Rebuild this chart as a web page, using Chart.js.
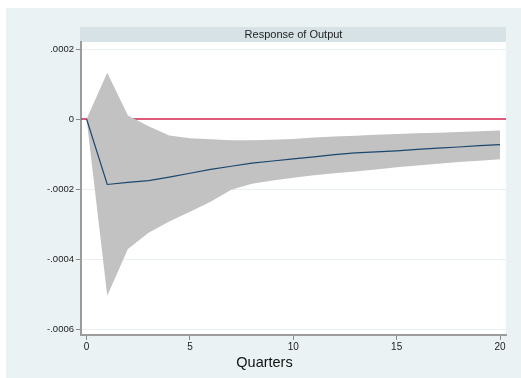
<!DOCTYPE html>
<html>
<head>
<meta charset="utf-8">
<script src="https://cdn.jsdelivr.net/npm/chart.js@4"></script>
<style>
  html, body { margin: 0; padding: 0; background: #ffffff; }
  #wrap { width: 521px; height: 378px; position: relative; }
</style>
</head>
<body>
<div id="wrap"><canvas id="c" width="521" height="378"></canvas></div>
<script>
// ---- data ----
const quarters = [0,1,2,3,4,5,6,7,8,9,10,11,12,13,14,15,16,17,18,19,20];
const irf = [0, -0.000187, -0.000181, -0.000176, -0.000166, -0.000155, -0.000144, -0.000135, -0.000126, -0.000120, -0.000114,
             -0.000108, -0.000102, -0.000097, -0.000094, -0.000091, -0.000087, -0.000083, -0.000080, -0.000076, -0.000073];
const upperCI = [0, 0.000132, 0.000010, -0.000021, -0.000047, -0.000055, -0.000058, -0.000061, -0.000061, -0.000059, -0.000057,
                 -0.000053, -0.000050, -0.000048, -0.000045, -0.000043, -0.000041, -0.000039, -0.000037, -0.000035, -0.000033];
const lowerCI = [0, -0.000505, -0.000371, -0.000325, -0.000293, -0.000265, -0.000236, -0.000202, -0.000185, -0.000176, -0.000168,
                 -0.000161, -0.000155, -0.000150, -0.000144, -0.000138, -0.000133, -0.000128, -0.000123, -0.000119, -0.000115];
const xTicks = [0, 5, 10, 15, 20];
const yTicks = [-0.0006, -0.0004, -0.0002, 0, 0.0002];
const panelTitle = "Response of Output";
const xTitle = "Quarters";

const FONT = "'Liberation Sans', Arial, Helvetica, sans-serif";

function pts(arr) { return quarters.map((q, i) => ({ x: q, y: arr[i] })); }
function stataFmt(v) {
  if (Math.abs(v) < 1e-12) return "0";
  const s = Math.abs(v).toFixed(4).replace(/^0/, "");
  return (v < 0 ? "-" : "") + s;
}

const decor = {
  id: 'decor',
  beforeDraw(chart) {
    const { ctx, chartArea: a } = chart;
    ctx.save();
    ctx.fillStyle = '#ffffff';
    ctx.fillRect(0, 0, chart.width, chart.height);
    ctx.fillStyle = '#eaf2f3';
    ctx.fillRect(6, 8, chart.width - 6, chart.height - 8);
    ctx.fillStyle = '#ffffff';
    ctx.fillRect(a.left, a.top, a.right - a.left, a.bottom - a.top);
    // title strip
    ctx.fillStyle = '#d7e2e7';
    ctx.fillRect(a.left - 1, a.top - 15, a.right - a.left + 1, 15);
    ctx.fillStyle = '#1e1e1e';
    ctx.font = "11px " + FONT;
    ctx.textAlign = 'center';
    ctx.textBaseline = 'middle';
    ctx.fillText(panelTitle, (a.left + a.right) / 2, a.top - 7);
    ctx.restore();
  },
  beforeDatasetsDraw(chart) {
    const { ctx, chartArea: a, scales } = chart;
    const y0 = scales.y.getPixelForValue(0);
    ctx.save();
    ctx.strokeStyle = '#d9254f';
    ctx.lineWidth = 1.3;
    ctx.beginPath();
    ctx.moveTo(a.left, y0);
    ctx.lineTo(a.right, y0);
    ctx.stroke();
    ctx.restore();
  },
  afterDraw(chart) {
    const { ctx } = chart;
    ctx.save();
    ctx.fillStyle = '#111111';
    ctx.font = "14.5px " + FONT;
    ctx.textAlign = 'center';
    ctx.textBaseline = 'middle';
    ctx.fillText(xTitle, 264.5, 363);
    ctx.restore();
  }
};

new Chart(document.getElementById('c'), {
  type: 'line',
  data: {
    datasets: [
      { label: 'upper', data: pts(upperCI), borderWidth: 0, borderColor: 'rgba(0,0,0,0)',
        backgroundColor: '#c2c2c2', fill: '+1', pointRadius: 0, tension: 0, order: 3 },
      { label: 'lower', data: pts(lowerCI), borderWidth: 0, borderColor: 'rgba(0,0,0,0)',
        backgroundColor: '#c2c2c2', fill: false, pointRadius: 0, tension: 0, order: 4 },
      { label: 'irf', data: pts(irf), borderWidth: 1.2, borderColor: '#1a476f',
        fill: false, pointRadius: 0, tension: 0, order: 1 }
    ]
  },
  options: {
    responsive: false,
    animation: false,
    devicePixelRatio: 1,
    layout: { padding: { top: 42, right: 15, left: 0, bottom: 0 } },
    plugins: { legend: { display: false }, tooltip: { enabled: false }, title: { display: false } },
    scales: {
      x: {
        type: 'linear',
        min: -0.27, max: 20.29,
        afterBuildTicks: s => { s.ticks = xTicks.map(v => ({ value: v })); },
        afterFit: s => { s.height = 43; },
        grid: { drawOnChartArea: false, tickLength: 5, tickColor: '#8a8a8a', tickWidth: 1 },
        border: { color: '#9c9c9c', width: 2 },
        ticks: { font: { family: FONT, size: 10 }, color: '#222', padding: 1, maxRotation: 0,
                 callback: v => String(v) }
      },
      y: {
        type: 'linear',
        min: -0.000617, max: 0.00022,
        afterBuildTicks: s => { s.ticks = yTicks.map(v => ({ value: v })); },
        afterFit: s => { s.width = 81; },
        grid: { color: '#e8f0f1', lineWidth: 1, tickLength: 5, tickColor: '#8a8a8a', tickWidth: 1 },
        border: { color: '#9c9c9c', width: 2 },
        ticks: { font: { family: FONT, size: 9.5 }, color: '#222', padding: 2,
                 callback: v => stataFmt(v) }
      }
    }
  },
  plugins: [decor]
});
</script>
</body>
</html>
